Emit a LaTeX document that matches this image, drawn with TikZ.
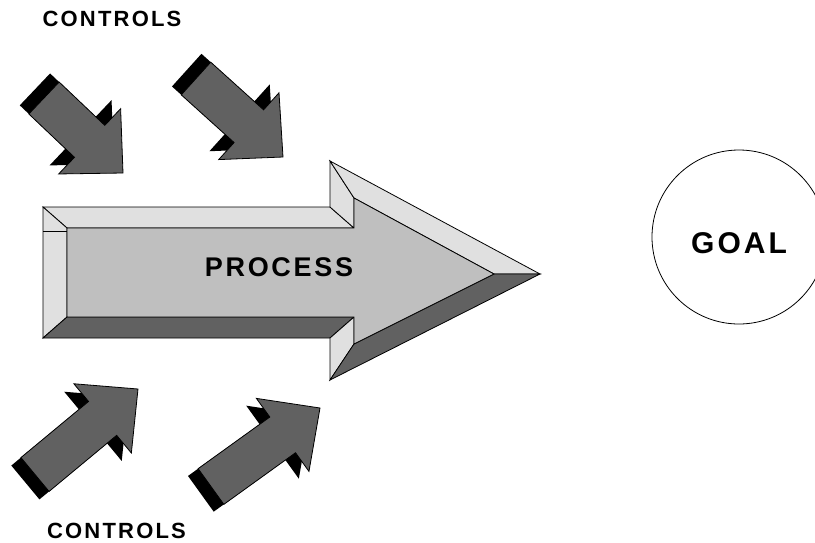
\documentclass[tikz,border=0pt]{standalone}
\usepackage{fontspec}
\usepackage{tikz}
\usetikzlibrary{calc}
\newfontfamily\lblfont{Liberation Sans}[LetterSpace=10]
\definecolor{bevellight}{gray}{0.88}
\definecolor{bevelmid}{gray}{0.75}
\definecolor{beveldark}{gray}{0.38}

\begin{document}
\begin{tikzpicture}[x=1pt,y=-1pt,line width=0.8pt,
  light/.style={fill=bevellight,draw=black},
  mid/.style={fill=bevelmid,draw=black},
  dark/.style={fill=beveldark,draw=black},
  lbl/.style={font=\lblfont\bfseries,inner sep=0pt}]
\useasboundingbox (0,0) rectangle (815,542);
\coordinate (o1) at (43,207);
\coordinate (o2) at (330,207);
\coordinate (h1) at (330,161);
\coordinate (tip) at (540,274);
\coordinate (h2) at (330,380);
\coordinate (o3) at (330,338);
\coordinate (o4) at (43,338);
\coordinate (i1) at (67,228);
\coordinate (i2) at (354,228);
\coordinate (j1) at (354,198);
\coordinate (itip) at (494,274);
\coordinate (j2) at (354,344);
\coordinate (i3) at (354,317);
\coordinate (i4) at (67,317);
\draw[light] (o1)--(o2)--(i2)--(i1)--cycle;
\draw[light] (o1)--(i1)--(i4)--(o4)--cycle;
\draw[dark] (o4)--(i4)--(i3)--(o3)--cycle;
\draw[light] (o2)--(h1)--(j1)--(i2)--cycle;
\draw[light] (o3)--(i3)--(j2)--(h2)--cycle;
\draw[light] (h1)--(tip)--(itip)--(j1)--cycle;
\draw[dark] (itip)--(tip)--(h2)--(j2)--cycle;
\draw[mid] (i1)--(i2)--(j1)--(itip)--(j2)--(i3)--(i4)--cycle;
\draw (o1 |- 0,231) -- (i1 |- 0,231);
\node[lbl,font=\lblfont\bfseries\fontsize{27}{30}\selectfont] (process) at (279,267) {PROCESS};
\foreach \tx/\ty/\px/\py in {44/98/123/173, 196/78.5/283/157, 35/474.5/138/389, 211/486.5/320/408}{
  \coordinate (T) at (\tx,\ty);
  \coordinate (P) at (\px,\py);
  \coordinate (Ts) at ($(T)!-12.5pt!(P)$);
  \coordinate (Ps) at ($(P)!12.5pt!(T)$);
  \coordinate (H) at ($(P)!46pt!(T)$);
  \coordinate (Hs) at ($(Ps)!46pt!(Ts)$);
  \fill[black] ($(Ts)!22pt!90:(Ps)$) -- ($(Hs)!22pt!90:(Ps)$) -- ($(Hs)!45pt!90:(Ps)$) -- (Ps)
    -- ($(Hs)!45pt!-90:(Ps)$) -- ($(Hs)!22pt!-90:(Ps)$) -- ($(Ts)!22pt!-90:(Ps)$) -- cycle;
  \draw[dark] ($(T)!22pt!90:(P)$) -- ($(H)!22pt!90:(P)$) -- ($(H)!45pt!90:(P)$) -- (P)
    -- ($(H)!45pt!-90:(P)$) -- ($(H)!22pt!-90:(P)$) -- ($(T)!22pt!-90:(P)$) -- cycle;
}
\node[lbl,font=\lblfont\bfseries\fontsize{22}{26}\selectfont] (ctrltop) at (112,19) {CONTROLS};
\node[lbl,font=\lblfont\bfseries\fontsize{22}{26}\selectfont] (ctrlbot) at (116.5,530.5) {CONTROLS};
\coordinate (goal) at (739,237);
\draw (goal) circle[radius=87pt];
\node[lbl,font=\lblfont\bfseries\fontsize{30}{34}\selectfont] (goallbl) at ($(goal)+(0,6)$) {GOAL};
\end{tikzpicture}
\end{document}
